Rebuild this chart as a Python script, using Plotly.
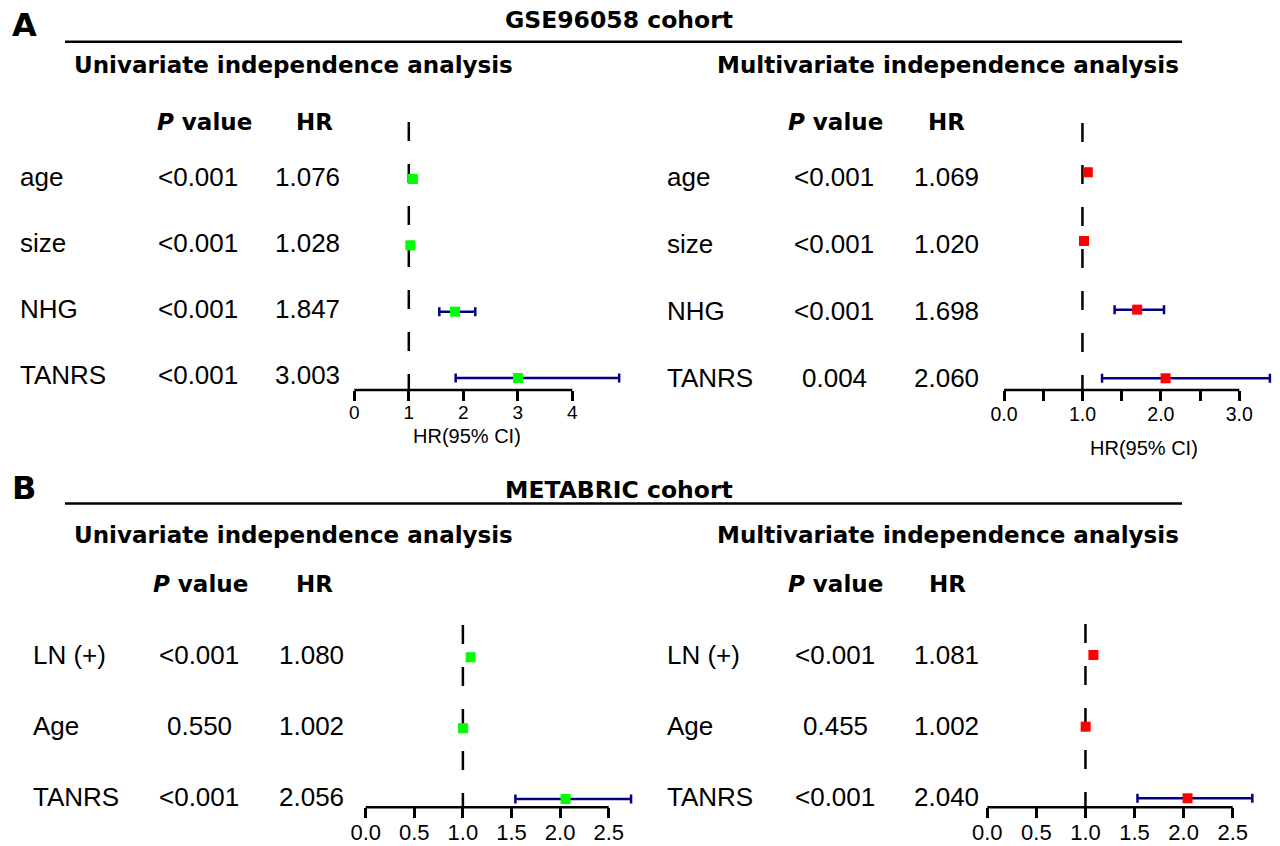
import plotly.graph_objects as go

W, H = 1280, 846

# ---------------- data ----------------
A_uni_vars = ["age", "size", "NHG", "TANRS"]
A_uni_p = ["<0.001", "<0.001", "<0.001", "<0.001"]
A_uni_hr_txt = ["1.076", "1.028", "1.847", "3.003"]
A_uni_hr = [1.076, 1.028, 1.847, 3.003]
A_uni_lo = [1.06, 1.02, 1.56, 1.86]
A_uni_hi = [1.09, 1.04, 2.22, 4.86]

A_mul_vars = ["age", "size", "NHG", "TANRS"]
A_mul_p = ["<0.001", "<0.001", "<0.001", "0.004"]
A_mul_hr_txt = ["1.069", "1.020", "1.698", "2.060"]
A_mul_hr = [1.069, 1.020, 1.698, 2.060]
A_mul_lo = [1.05, 1.01, 1.41, 1.25]
A_mul_hi = [1.09, 1.03, 2.04, 3.39]

B_uni_vars = ["LN (+)", "Age", "TANRS"]
B_uni_p = ["<0.001", "0.550", "<0.001"]
B_uni_hr_txt = ["1.080", "1.002", "2.056"]
B_uni_hr = [1.080, 1.002, 2.056]
B_uni_lo = [1.06, 0.99, 1.54]
B_uni_hi = [1.10, 1.01, 2.73]

B_mul_vars = ["LN (+)", "Age", "TANRS"]
B_mul_p = ["<0.001", "0.455", "<0.001"]
B_mul_hr_txt = ["1.081", "1.002", "2.040"]
B_mul_hr = [1.081, 1.002, 2.040]
B_mul_lo = [1.06, 0.99, 1.53]
B_mul_hi = [1.10, 1.01, 2.70]

A_uni_ticks = [0, 1, 2, 3, 4]
A_uni_ticktext = ["0", "1", "2", "3", "4"]
A_mul_ticks = [0, 0.5, 1, 1.5, 2, 2.5, 3]
A_mul_ticktext = ["0.0", "", "1.0", "", "2.0", "", "3.0"]
B_ticks = [0, 0.5, 1, 1.5, 2, 2.5]
B_ticktext = ["0.0", "0.5", "1.0", "1.5", "2.0", "2.5"]

cohort_titles = ["GSE96058 cohort", "METABRIC cohort"]
panel_letters = ["A", "B"]
sub_titles = ["Univariate independence analysis", "Multivariate independence analysis"]

# ---------------- layout helpers ----------------
def fx(p):
    return p / W

def fy(p):
    return 1 - p / H

REG = "Liberation Sans, Arial, sans-serif"
BOLD = "DejaVu Sans, sans-serif"
GREEN = "#00ff00"
RED = "#ff0000"
NAVY = "#000080"

panels = [
    dict(vars=A_uni_vars, p=A_uni_p, hrt=A_uni_hr_txt, hr=A_uni_hr, lo=A_uni_lo, hi=A_uni_hi,
         color=GREEN, ticks=A_uni_ticks, ticktext=A_uni_ticktext, axmax=4, tfs=19, tso=-5,
         x_ref=(0, 354.3, 4, 572.3), xdom=(330, 640),
         rows_px=(179, 378), ydom=(100, 390), dash_top=122,
         lab_x=18, p_x=198, hr_x=307, txt_y0=177, txt_dy=66.0,
         hp_x=204.5, hh_x=314, head_y=121.7, ci_lab=(467, 436)),
    dict(vars=A_mul_vars, p=A_mul_p, hrt=A_mul_hr_txt, hr=A_mul_hr, lo=A_mul_lo, hi=A_mul_hi,
         color=RED, ticks=A_mul_ticks, ticktext=A_mul_ticktext, axmax=3, tfs=19.5, tso=-3,
         x_ref=(0, 1004, 3, 1239.3), xdom=(985, 1280),
         rows_px=(172.3, 378.3), ydom=(100, 390), dash_top=123,
         lab_x=665, p_x=834, hr_x=946, txt_y0=177, txt_dy=66.9,
         hp_x=835, hh_x=946, head_y=121.7, ci_lab=(1144, 448)),
    dict(vars=B_uni_vars, p=B_uni_p, hrt=B_uni_hr_txt, hr=B_uni_hr, lo=B_uni_lo, hi=B_uni_hi,
         color=GREEN, ticks=B_ticks, ticktext=B_ticktext, axmax=2.5, tfs=22, tso=-5,
         x_ref=(0, 365.7, 2.5, 608.7), xdom=(345, 640),
         rows_px=(657.3, 799), ydom=(600, 807.3), dash_top=625,
         lab_x=30.7, p_x=199, hr_x=311, txt_y0=655, txt_dy=71.0,
         hp_x=200.5, hh_x=314.5, head_y=584, ci_lab=None),
    dict(vars=B_mul_vars, p=B_mul_p, hrt=B_mul_hr_txt, hr=B_mul_hr, lo=B_mul_lo, hi=B_mul_hi,
         color=RED, ticks=B_ticks, ticktext=B_ticktext, axmax=2.5, tfs=22, tso=-5,
         x_ref=(0, 987.3, 2.5, 1232.7), xdom=(970, 1280),
         rows_px=(655, 798.3), ydom=(600, 807.3), dash_top=624,
         lab_x=665, p_x=835, hr_x=946, txt_y0=655, txt_dy=71.0,
         hp_x=835, hh_x=947, head_y=584, ci_lab=None),
]

fig = go.Figure()
annotations = []
shapes = []
layout_axes = {}

for k, P in enumerate(panels, start=1):
    xa = "x" if k == 1 else f"x{k}"
    ya = "y" if k == 1 else f"y{k}"
    n = len(P["vars"])
    # x mapping
    v0, p0, v1, p1 = P["x_ref"]
    sx = (p1 - p0) / (v1 - v0)
    xr = [v0 + (P["xdom"][0] - p0) / sx, v0 + (P["xdom"][1] - p0) / sx]
    # y mapping (row index: top row = n-1)
    r0, rl = P["rows_px"]
    unit = (rl - r0) / (n - 1)
    def yval(px, r0=r0, unit=unit, n=n):
        return (n - 1) - (px - r0) / unit
    yr = [yval(P["ydom"][1]), yval(P["ydom"][0])]
    ys = [n - 1 - i for i in range(n)]

    # dashed reference line at HR = 1
    fig.add_trace(go.Scatter(x=[1, 1], y=[yval(P["dash_top"]), yval(P["ydom"][1])],
                             mode="lines", line=dict(color="black", width=2.5, dash="19px,23px"),
                             xaxis=xa, yaxis=ya, showlegend=False, hoverinfo="skip"))
    # points with CI
    fig.add_trace(go.Scatter(
        x=P["hr"], y=ys, mode="markers",
        marker=dict(symbol="square", size=10, color=P["color"]),
        error_x=dict(type="data", symmetric=False,
                     array=[h - m for h, m in zip(P["hi"], P["hr"])],
                     arrayminus=[m - l for m, l in zip(P["hr"], P["lo"])],
                     color=NAVY, thickness=2.5, width=4.5),
        xaxis=xa, yaxis=ya, showlegend=False, cliponaxis=False))

    xkey = "xaxis" if k == 1 else f"xaxis{k}"
    ykey = "yaxis" if k == 1 else f"yaxis{k}"
    layout_axes[xkey] = dict(domain=[fx(P["xdom"][0]), fx(P["xdom"][1])], range=xr, anchor=ya,
                             tickvals=P["ticks"], ticktext=P["ticktext"], ticks="outside",
                             ticklen=10, tickwidth=2.5, tickcolor="black", showline=False,
                             showgrid=False, zeroline=False, ticklabelstandoff=P["tso"],
                             tickfont=dict(family=REG, size=P["tfs"], color="black"))
    layout_axes[ykey] = dict(domain=[fy(P["ydom"][1]), fy(P["ydom"][0])], range=yr, anchor=xa,
                             visible=False, showgrid=False, zeroline=False)
    # axis line only over the labelled span
    shapes.append(dict(type="line", xref=xa, yref=f"{ya} domain", x0=0, x1=P["axmax"], y0=0, y1=0,
                       line=dict(color="black", width=2.5)))

    # table text
    for i in range(n):
        ty = fy(P["txt_y0"] + i * P["txt_dy"])
        annotations.append(dict(x=fx(P["lab_x"]), y=ty, xref="paper", yref="paper", text=P["vars"][i],
                                showarrow=False, xanchor="left", yanchor="middle",
                                font=dict(family=REG, size=26, color="black")))
        annotations.append(dict(x=fx(P["p_x"]), y=ty, xref="paper", yref="paper", text=P["p"][i],
                                showarrow=False, xanchor="center", yanchor="middle",
                                font=dict(family=REG, size=26, color="black")))
        annotations.append(dict(x=fx(P["hr_x"]), y=ty, xref="paper", yref="paper", text=P["hrt"][i],
                                showarrow=False, xanchor="center", yanchor="middle",
                                font=dict(family=REG, size=26, color="black")))
    annotations.append(dict(x=fx(P["hp_x"]), y=fy(P["head_y"]), xref="paper", yref="paper",
                            text="<b><i>P</i> value</b>", showarrow=False, xanchor="center",
                            yanchor="middle", font=dict(family=BOLD, size=23, color="black")))
    annotations.append(dict(x=fx(P["hh_x"]), y=fy(P["head_y"]), xref="paper", yref="paper",
                            text="<b>HR</b>", showarrow=False, xanchor="center",
                            yanchor="middle", font=dict(family=BOLD, size=23, color="black")))
    if P["ci_lab"]:
        annotations.append(dict(x=fx(P["ci_lab"][0]), y=fy(P["ci_lab"][1]), xref="paper", yref="paper",
                                text="HR(95% CI)", showarrow=False, xanchor="center", yanchor="middle",
                                font=dict(family=REG, size=20, color="black")))

# section headers
sec = [dict(letter_y=25, title_y=20.5, line_y=41.7, sub_y=65.3),
       dict(letter_y=488, title_y=490, line_y=503.5, sub_y=534.5)]
for s, S in enumerate(sec):
    annotations.append(dict(x=fx(24), y=fy(S["letter_y"]), xref="paper", yref="paper",
                            text=f"<b>{panel_letters[s]}</b>", showarrow=False, xanchor="center",
                            yanchor="middle", font=dict(family=BOLD, size=32, color="black")))
    annotations.append(dict(x=fx(618.5), y=fy(S["title_y"]), xref="paper", yref="paper",
                            text=f"<b>{cohort_titles[s]}</b>", showarrow=False, xanchor="center",
                            yanchor="middle", font=dict(family=BOLD, size=23.5, color="black")))
    shapes.append(dict(type="line", xref="paper", yref="paper", x0=fx(65), x1=fx(1182),
                       y0=fy(S["line_y"]), y1=fy(S["line_y"]), line=dict(color="black", width=2.5)))
    annotations.append(dict(x=fx(71.7), y=fy(S["sub_y"]), xref="paper", yref="paper",
                            text=f"<b>{sub_titles[0]}</b>", showarrow=False, xanchor="left",
                            yanchor="middle", font=dict(family=BOLD, size=23, color="black")))
    annotations.append(dict(x=fx(1181), y=fy(S["sub_y"]), xref="paper", yref="paper",
                            text=f"<b>{sub_titles[1]}</b>", showarrow=False, xanchor="right",
                            yanchor="middle", font=dict(family=BOLD, size=23, color="black")))

fig.update_layout(width=W, height=H, margin=dict(l=0, r=0, t=0, b=0),
                  paper_bgcolor="white", plot_bgcolor="rgba(0,0,0,0)",
                  annotations=annotations, shapes=shapes, showlegend=False, **layout_axes)

fig.write_html("out.html", config={"displayModeBar": False},
               post_script="document.body.style.margin='0px';document.body.style.overflow='hidden';"
                           "document.documentElement.style.overflow='hidden';")
